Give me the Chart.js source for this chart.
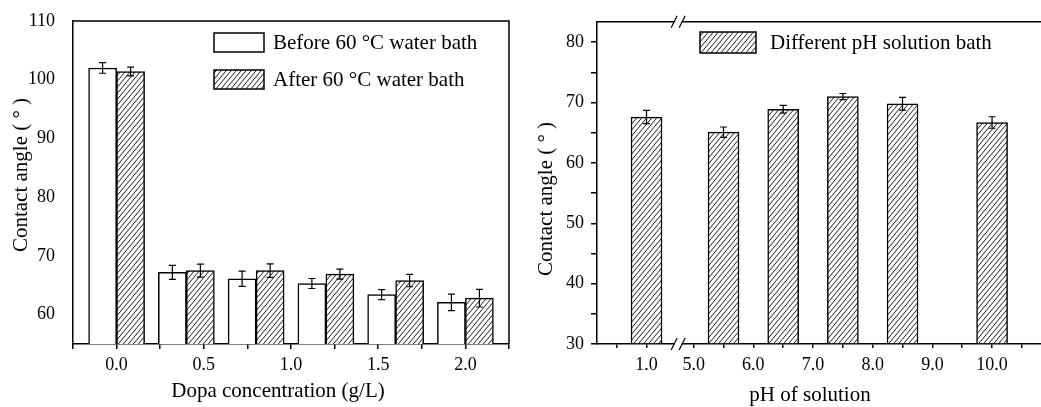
<!DOCTYPE html>
<html>
<head>
<meta charset="utf-8">
<script src="https://cdn.jsdelivr.net/npm/chart.js@4.4.1/dist/chart.umd.min.js"></script>
<style>
  html, body { margin: 0; padding: 0; background: #fff; overflow: hidden; }
  #left { position: absolute; left: 0; top: 0; }
  #right { position: absolute; left: 520px; top: 0; }
</style>
</head>
<body>
<canvas id="left" width="520" height="407"></canvas>
<canvas id="right" width="521" height="407"></canvas>
<script>
// left panel: contact angle vs dopa concentration
const dopaConc = [0.0, 0.4, 0.8, 1.2, 1.6, 2.0];
const beforeAngle = [102.0, 67.2, 66.1, 65.3, 63.4, 62.1];
const beforeErr = [0.9, 1.2, 1.3, 0.85, 0.85, 1.4];
const afterAngle = [101.4, 67.5, 67.5, 66.9, 65.8, 62.8];
const afterErr = [0.75, 1.1, 1.15, 0.85, 1.05, 1.5];
const dopaTicks = [-0.25, 0, 0.25, 0.5, 0.75, 1.0, 1.25, 1.5, 1.75, 2.0, 2.25];
const angleTicksLeft = [60, 70, 80, 90, 100, 110];

// right panel: contact angle vs pH (axis broken between 1 and 5)
const phValues = [1.0, 5.5, 6.5, 7.5, 8.5, 10.0];
const phAngle = [67.6, 65.1, 68.9, 71.0, 69.8, 66.7];
const phErr = [1.1, 0.85, 0.65, 0.5, 1.05, 0.95];
const phMajor = [1.0, 5.0, 6.0, 7.0, 8.0, 9.0, 10.0];
const phMinor = [0.5, 5.5, 6.5, 7.5, 8.5, 9.5, 10.5];
const angleTicksRight = [30, 35, 40, 45, 50, 55, 60, 65, 70, 75, 80];

const BREAK_SHIFT = 3.21;   // pH < 3 gets pushed right to sit just before 5.0
const BREAK_AT = 4.74;
const toAxis = ph => ph < 3 ? ph + BREAK_SHIFT : ph;

const FONT = "'Liberation Serif', 'Times New Roman', serif";
Chart.defaults.font.family = FONT;
Chart.defaults.color = '#000';

function hatch(canvas) {
  const w = 5, h = 6;
  const c = document.createElement('canvas');
  c.width = w; c.height = h;
  const g = c.getContext('2d');
  g.fillStyle = '#fff';
  g.fillRect(0, 0, w, h);
  g.strokeStyle = '#000';
  g.lineWidth = 0.9;
  for (let k = -1; k <= 1; k++) {
    g.beginPath();
    g.moveTo(k * w, h);
    g.lineTo((k + 1) * w, 0);
    g.stroke();
  }
  return canvas.getContext('2d').createPattern(c, 'repeat');
}

const errorBars = {
  id: 'errorBars',
  afterDatasetsDraw(chart) {
    const ctx = chart.ctx, y = chart.scales.y;
    chart.data.datasets.forEach((ds, i) => {
      chart.getDatasetMeta(i).data.forEach((bar, j) => {
        const v = ds.data[j].y, e = ds.errors[j];
        const top = y.getPixelForValue(v + e), bot = y.getPixelForValue(v - e);
        ctx.save();
        ctx.strokeStyle = '#000';
        ctx.lineWidth = 1.2;
        ctx.beginPath();
        ctx.moveTo(bar.x, top); ctx.lineTo(bar.x, bot);
        ctx.moveTo(bar.x - 3.5, top); ctx.lineTo(bar.x + 3.5, top);
        ctx.moveTo(bar.x - 3.5, bot); ctx.lineTo(bar.x + 3.5, bot);
        ctx.stroke();
        ctx.restore();
      });
    });
  }
};

// top line (and right line) of the frame
const frame = {
  id: 'frame',
  afterDraw(chart, args, opts) {
    const { ctx, chartArea: a } = chart;
    ctx.save();
    ctx.strokeStyle = '#000';
    ctx.lineWidth = 1.5;
    ctx.beginPath();
    ctx.moveTo(a.left, a.top);
    ctx.lineTo(a.right, a.top);
    if (opts.right) ctx.lineTo(a.right, a.bottom);
    ctx.stroke();
    ctx.restore();
  }
};

const boxLegend = {
  id: 'boxLegend',
  afterDraw(chart, args, opts) {
    const ctx = chart.ctx;
    ctx.save();
    opts.items.forEach(it => {
      const ds = chart.data.datasets[it.ds];
      ctx.fillStyle = ds.backgroundColor;
      ctx.fillRect(it.x, it.y, it.w, it.h);
      ctx.strokeStyle = '#000';
      ctx.lineWidth = 1.5;
      ctx.strokeRect(it.x, it.y, it.w, it.h);
      ctx.fillStyle = '#000';
      ctx.font = '21px ' + FONT;
      ctx.textAlign = 'left';
      ctx.textBaseline = 'middle';
      ctx.fillText(ds.label, it.x + it.w + it.gap, it.y + it.h / 2 + 1);
    });
    ctx.restore();
  }
};

const axisTitles = {
  id: 'axisTitles',
  afterDraw(chart, args, opts) {
    const ctx = chart.ctx;
    ctx.save();
    ctx.fillStyle = '#000';
    ctx.font = '21px ' + FONT;
    ctx.textAlign = 'center';
    ctx.textBaseline = 'middle';
    opts.items.forEach(t => {
      ctx.save();
      ctx.translate(t.x, t.y);
      if (t.vertical) ctx.rotate(-Math.PI / 2);
      ctx.fillText(t.text, 0, 0);
      ctx.restore();
    });
    ctx.restore();
  }
};

const axisBreak = {
  id: 'axisBreak',
  afterDraw(chart) {
    const { ctx, chartArea: a } = chart;
    const x = chart.scales.x.getPixelForValue(BREAK_AT);
    ctx.save();
    [a.top, a.bottom].forEach(y => {
      ctx.fillStyle = '#fff';
      ctx.fillRect(x - 3.5, y - 2, 7, 4);
      ctx.strokeStyle = '#000';
      ctx.lineWidth = 1.2;
      ctx.beginPath();
      ctx.moveTo(x - 7, y + 6); ctx.lineTo(x - 1, y - 6);
      ctx.moveTo(x + 1, y + 6); ctx.lineTo(x + 7, y - 6);
      ctx.stroke();
    });
    ctx.restore();
  }
};

const tickFont = { size: 18, family: FONT };
const axisBorder = { display: true, color: '#000', width: 1.5 };

// left chart
const leftCanvas = document.getElementById('left');
new Chart(leftCanvas, {
  type: 'bar',
  data: {
    datasets: [
      {
        label: 'Before 60 °C water bath',
        data: dopaConc.map((x, i) => ({ x, y: beforeAngle[i] })),
        errors: beforeErr,
        backgroundColor: '#fff',
        borderColor: '#000',
        borderWidth: 1.5,
        barThickness: 28,
        base: 55
      },
      {
        label: 'After 60 °C water bath',
        data: dopaConc.map((x, i) => ({ x, y: afterAngle[i] })),
        errors: afterErr,
        backgroundColor: hatch(leftCanvas),
        borderColor: '#000',
        borderWidth: 1.5,
        barThickness: 28,
        base: 55
      }
    ]
  },
  options: {
    responsive: false,
    animation: false,
    events: [],
    layout: { padding: { top: 21, right: 11, left: 0, bottom: 0 } },
    plugins: {
      legend: { display: false },
      tooltip: { enabled: false },
      frame: { right: true },
      boxLegend: {
        items: [
          { ds: 0, x: 214, y: 33, w: 50, h: 19, gap: 9 },
          { ds: 1, x: 214, y: 70, w: 50, h: 19, gap: 9 }
        ]
      },
      axisTitles: {
        items: [
          { text: 'Contact angle ( ° )', x: 21, y: 175, vertical: true },
          { text: 'Dopa concentration (g/L)', x: 278, y: 391 }
        ]
      }
    },
    scales: {
      x: {
        type: 'linear',
        min: -0.25,
        max: 2.25,
        offset: false,
        grid: { display: true, offset: false, drawOnChartArea: false, drawTicks: true, tickLength: 5, color: '#000', lineWidth: 1.5 },
        border: axisBorder,
        ticks: {
          autoSkip: false,
          maxRotation: 0,
          padding: 5,
          font: tickFont,
          color: '#000',
          callback: v => Math.abs(v * 2 - Math.round(v * 2)) < 1e-6 ? v.toFixed(1) : ''
        },
        afterBuildTicks: s => { s.ticks = dopaTicks.map(v => ({ value: v })); },
        afterFit: s => { s.height = 63; }
      },
      y: {
        min: 55,
        max: 110,
        beginAtZero: false,
        grid: { display: false },
        border: axisBorder,
        ticks: { padding: 10, font: tickFont, color: '#000' },
        afterBuildTicks: s => { s.ticks = angleTicksLeft.map(v => ({ value: v })); },
        afterFit: s => { s.width = 73; }
      }
    }
  },
  plugins: [errorBars, frame, boxLegend, axisTitles]
});

// right chart
const rightCanvas = document.getElementById('right');
const phTicks = phMajor.concat(phMinor).map(toAxis).sort((a, b) => a - b);
new Chart(rightCanvas, {
  type: 'bar',
  data: {
    datasets: [
      {
        label: 'Different pH solution bath',
        data: phValues.map((p, i) => ({ x: toAxis(p), y: phAngle[i] })),
        errors: phErr,
        backgroundColor: hatch(rightCanvas),
        borderColor: '#000',
        borderWidth: 1.5,
        barThickness: 31,
        base: 30
      }
    ]
  },
  options: {
    responsive: false,
    animation: false,
    events: [],
    layout: { padding: { top: 21.7, right: 0, left: 0, bottom: 0 } },
    plugins: {
      legend: { display: false },
      tooltip: { enabled: false },
      frame: { right: false },
      boxLegend: {
        items: [{ ds: 0, x: 180, y: 32, w: 56, h: 21, gap: 14 }]
      },
      axisTitles: {
        items: [
          { text: 'Contact angle ( ° )', x: 26, y: 199, vertical: true },
          { text: 'pH of solution', x: 290, y: 395 }
        ]
      }
    },
    scales: {
      x: {
        type: 'linear',
        min: 3.38,
        max: 10.82,
        offset: false,
        grid: { display: true, offset: false, drawOnChartArea: false, drawTicks: true, tickLength: 4, color: '#000', lineWidth: 1.5 },
        border: axisBorder,
        ticks: {
          autoSkip: false,
          maxRotation: 0,
          padding: 6,
          font: tickFont,
          color: '#000',
          callback: v => {
            const m = phMajor.find(p => Math.abs(toAxis(p) - v) < 1e-6);
            return m === undefined ? '' : m.toFixed(1);
          }
        },
        afterBuildTicks: s => { s.ticks = phTicks.map(v => ({ value: v })); },
        afterFit: s => { s.height = 63; }
      },
      y: {
        min: 30,
        max: 83.4,
        beginAtZero: false,
        grid: { display: true, drawOnChartArea: false, drawTicks: true, tickLength: 6, color: '#000', lineWidth: 1.5 },
        border: axisBorder,
        ticks: {
          padding: 7,
          font: tickFont,
          color: '#000',
          callback: v => v % 10 === 0 ? v : ''
        },
        afterBuildTicks: s => { s.ticks = angleTicksRight.map(v => ({ value: v })); },
        afterFit: s => { s.width = 77; }
      }
    }
  },
  plugins: [errorBars, frame, boxLegend, axisTitles, axisBreak]
});
</script>
</body>
</html>
